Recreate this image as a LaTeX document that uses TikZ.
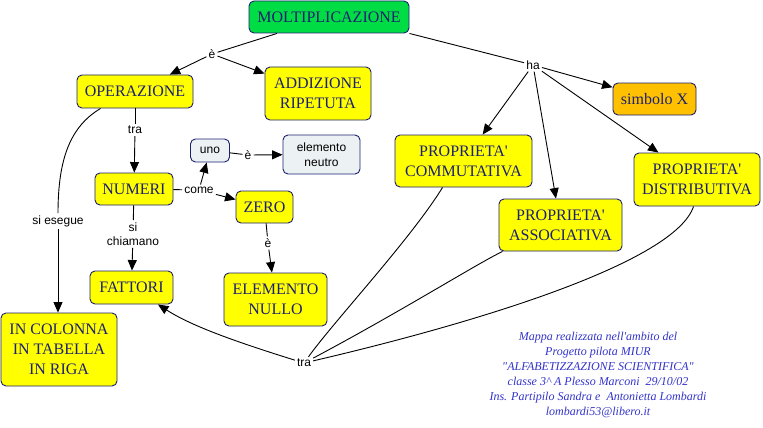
\documentclass[tikz,border=0pt]{standalone}
\usepackage{fontspec}
\setmainfont{Liberation Serif}
\newfontfamily\lsans{Liberation Sans}
\newfontfamily\lserif{Liberation Serif}
\usetikzlibrary{arrows.meta}
\definecolor{navy}{RGB}{28,32,112}
\definecolor{mgreen}{RGB}{0,221,68}
\definecolor{morange}{RGB}{255,192,0}
\definecolor{mgray}{RGB}{236,241,244}
\definecolor{mblue}{RGB}{51,51,204}
\definecolor{myellow}{RGB}{255,255,0}
\tikzset{
  box/.style={draw=navy, line width=0.9pt, rounded corners=5pt, fill=myellow, text=navy,
    font=\lserif\fontsize{16}{20}\selectfont, align=center, inner sep=0pt},
  gbox/.style={draw=navy, line width=0.9pt, rounded corners=5pt, fill=mgray, text=black,
    font=\lsans\fontsize{12}{15}\selectfont, align=center, inner sep=0pt},
  lbl/.style={font=\lsans\fontsize{12}{14.5}\selectfont, inner sep=2pt, align=center},
  conn/.style={line width=0.9pt, black},
  arr/.style={conn, -{Triangle[length=10.5pt,width=9pt]}},
  foot/.style={font=\lserif\itshape\fontsize{12}{15}\selectfont, text=mblue, align=center, inner sep=0pt}
}
\begin{document}
\begin{tikzpicture}[x=1pt,y=-1pt]
\useasboundingbox[fill=white] (0,0) rectangle (763,428);
% nodes
\node[box, fill=mgreen, minimum width=160, minimum height=32] (molt) at (329,17) {MOLTIPLICAZIONE};
\node[box, minimum width=116, minimum height=33] (oper) at (135,91.5) {OPERAZIONE};
\node[box, minimum width=106, minimum height=53] (add) at (318,93.5) {ADDIZIONE\\RIPETUTA};
\node[gbox, minimum width=39, minimum height=23] (uno) at (210,150.5) {uno};
\node[gbox, minimum width=77, minimum height=39] (neutro) at (321.5,154.5) {elemento\\neutro};
\node[box, minimum width=78, minimum height=32] (numeri) at (134,189) {NUMERI};
\node[box, minimum width=57, minimum height=32] (zero) at (264.5,207) {ZERO};
\node[box, minimum width=83, minimum height=33] (fattori) at (131.5,287.5) {FATTORI};
\node[box, minimum width=103, minimum height=53] (nullo) at (275.5,299.5) {ELEMENTO\\NULLO};
\node[box, minimum width=116, minimum height=73] (colonna) at (59,349.5) {IN COLONNA\\IN TABELLA\\IN RIGA};
\node[box, minimum width=137, minimum height=52] (comm) at (463.5,161) {PROPRIETA\textquotesingle\\COMMUTATIVA};
\node[box, fill=morange, minimum width=83, minimum height=32] (simb) at (654.5,99) {simbolo X};
\node[box, minimum width=126, minimum height=53] (distr) at (697,179.5) {PROPRIETA\textquotesingle\\DISTRIBUTIVA};
\node[box, minimum width=123, minimum height=52] (assoc) at (560.5,225) {PROPRIETA\textquotesingle\\ASSOCIATIVA};
% labels
\node[lbl] (e1) at (212,54) {è};
\node[lbl] (ha) at (533,65) {ha};
\node[lbl] (tra1) at (135,130) {tra};
\node[lbl] (e2) at (248,155) {è};
\node[lbl] (come) at (199,190) {come};
\node[lbl] (sies) at (58,221) {si esegue};
\node[lbl] (sichi) at (133,234) {si\\chiamano};
\node[lbl] (e3) at (268,243) {è};
\node[lbl] (tra2) at (304,363) {tra};
% connectors
\draw[conn] (molt) -- (e1);
\draw[arr] (e1) -- (oper);
\draw[arr] (e1) -- (add);
\draw[conn] (molt.south east) -- (ha);
\draw[arr] (ha) -- (simb);
\draw[arr] (ha) -- (comm);
\draw[arr] (ha) -- (assoc);
\draw[arr] (ha) -- (distr);
\draw[conn] (oper) -- (tra1);
\draw[arr] (tra1) -- (numeri);
\draw[conn] ([xshift=24pt]oper.south west) .. controls +(-30,18) and +(0,-55) .. (sies.north);
\draw[arr] (sies) -- (sies.south |- colonna.north);
\draw[conn] (numeri) -- (come);
\draw[arr] (come) -- (uno);
\draw[arr] (come) -- (zero);
\draw[conn] (uno) -- (e2);
\draw[arr] (e2) -- (neutro);
\draw[conn] (numeri) -- (sichi);
\draw[arr] (sichi) -- (fattori);
\draw[conn] (zero) -- (e3);
\draw[arr] (e3) -- (nullo);
\draw[conn] ([xshift=48pt]comm.south west) .. controls (410,240) and (335,320) .. (tra2);
\draw[conn] ([xshift=4pt]assoc.south west) .. controls (480,262) and (400,312) .. (tra2);
\draw[conn] ([xshift=60pt]distr.south west) .. controls (675,262) and (480,322) .. (tra2);
\draw[arr] (tra2) .. controls (230,340) and (190,325) .. (fattori);
% footer
\node[foot] (footer) at (598,374.5) {Mappa realizzata nell\textquotesingle ambito del\\
Progetto pilota MIUR\\
\textquotedbl ALFABETIZZAZIONE SCIENTIFICA\textquotedbl\\
classe 3\textasciicircum\ A Plesso Marconi\ \ 29/10/02\\
Ins. Partipilo Sandra e\ \ Antonietta Lombardi\\
lombardi53@libero.it};
\end{tikzpicture}
\end{document}
